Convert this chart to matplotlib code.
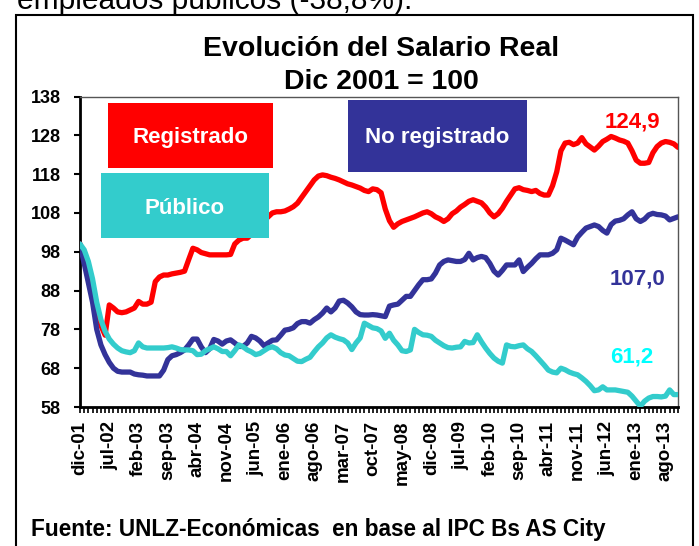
import matplotlib
matplotlib.use("Agg")
import matplotlib.pyplot as plt
from matplotlib.patches import Rectangle
import numpy as np

# ---------------- data ----------------
tick_labels = ["dic-01", "jul-02", "feb-03", "sep-03", "abr-04", "nov-04", "jun-05",
               "ene-06", "ago-06", "mar-07", "oct-07", "may-08", "dic-08", "jul-09",
               "feb-10", "sep-10", "abr-11", "nov-11", "jun-12", "ene-13", "ago-13"]

registrado = [
    100, 97, 92, 87, 83, 79, 76.5, 84.3, 83.5, 82.5,
    82.3, 82.5, 83, 83.5, 85.2, 84.5, 84.5, 85, 90.3, 91.5,
    92, 92, 92.3, 92.5, 92.7, 93, 96, 98.9, 98.5, 97.8,
    97.5, 97.2, 97.2, 97.2, 97.2, 97.2, 97.3, 100, 101, 101.5,
    101.5, 102.5, 103.5, 105, 106, 107, 108, 108.3, 108.3, 108.5,
    109, 109.6, 110.5, 112, 113.5, 115, 116.5, 117.5, 117.8, 117.6,
    117.2, 116.9, 116.5, 116, 115.5, 115.2, 114.8, 114.4, 113.8, 113.5,
    114.2, 114, 113.2, 109, 106, 104.3, 105.2, 105.8, 106.2, 106.6,
    107, 107.5, 108, 108.3, 107.8, 107, 106.5, 105.8, 106.5, 107.8,
    108.5, 109.5, 110.2, 111, 111.4, 111, 110.6, 109.5, 108, 107,
    107.8, 109.2, 111, 112.6, 114.2, 114.5, 114, 113.8, 113.5, 113.8,
    113, 112.6, 112.6, 115, 118.6, 124, 126, 126.2, 125.6, 126,
    127.4, 125.8, 125, 124.2, 125.2, 126.4, 127, 127.7, 127.3, 126.8,
    126.5, 126, 124, 121.6, 120.8, 120.8, 121, 123.5, 125.1, 126,
    126.4, 126.2, 125.8, 124.9]

no_registrado = [
    100, 95, 90, 85, 78, 74, 71.5, 69.5, 68, 67.2,
    67, 67, 67, 66.5, 66.3, 66.2, 66, 66, 66, 66,
    67.5, 70.2, 71.2, 71.5, 72, 72.7, 74, 75.5, 75.5, 73.5,
    72, 73, 75.4, 75, 74.2, 75, 75.3, 74.5, 73.6, 73.6,
    74.5, 76.2, 75.8, 75, 73.8, 74.5, 75.2, 75.3, 76.5, 77.8,
    78, 78.4, 79.5, 80, 80, 79.6, 80.5, 81.2, 82.2, 83.5,
    82.5, 83.5, 85.3, 85.5, 84.8, 83.8, 82.5, 81.8, 81.7, 81.7,
    81.8, 81.7, 81.5, 81.3, 84, 84.3, 84.5, 85.5, 86.5, 86.5,
    88, 89.5, 90.8, 90.8, 91, 92.5, 94.6, 95.5, 95.9, 95.7,
    95.5, 95.5, 96, 97.6, 95.9, 96.5, 96.8, 96.5, 95, 93,
    92, 93.2, 94.6, 94.6, 94.6, 95.9, 92.9, 94, 95, 96.2,
    97.2, 97.2, 97.2, 97.6, 98.5, 101.5, 101, 100.4, 99.8, 101.8,
    103, 104.1, 104.5, 104.9, 104.5, 103.5, 102.8, 105, 105.9, 106.1,
    106.5, 107.5, 108.3, 106.5, 105.8, 106.4, 107.5, 107.9, 107.6, 107.5,
    107.2, 106.2, 106.6, 107.0]

publico = [
    100, 98.5, 95.5, 91, 85, 80.5, 77.5, 75.5, 74.2, 73.2,
    72.5, 72.2, 72, 72.5, 74.5, 73.5, 73.2, 73.2, 73.2, 73.2,
    73.2, 73.3, 73.5, 73.2, 72.8, 72.7, 72.7, 72.5, 71.5, 71.6,
    72.5, 73, 73.5, 73, 72.3, 72.3, 71.2, 72.5, 74, 73.5,
    72.7, 72.2, 71.5, 71.8, 72.5, 73.2, 73.5, 73, 72, 71.4,
    71.2, 70.5, 69.8, 69.7, 70.3, 70.8, 72.2, 73.5, 74.5, 75.8,
    76.6, 76, 75.6, 75.3, 74.5, 72.8, 74.5, 75.8, 79.6, 79,
    78.4, 78.2, 77.6, 75.7, 77, 75.2, 74, 72.5, 72.3, 72.7,
    78, 77.2, 76.6, 76.5, 76.2, 75.2, 74.5, 73.8, 73.3, 73.2,
    73.4, 73.5, 74.9, 74.5, 74.6, 76.6, 74.8, 73.2, 71.8, 70.6,
    69.8, 69.3, 74, 73.6, 73.5, 73.8, 74, 73, 72.3, 71.2,
    70, 68.8, 67.5, 67, 66.8, 68, 67.6, 67, 66.6, 66.3,
    65.5, 64.6, 63.5, 62.2, 62.4, 63.2, 62.4, 62.4, 62.4, 62.2,
    62, 61.8, 60.8, 59.5, 58.2, 59.5, 60.3, 60.7, 60.7, 60.6,
    60.8, 62.4, 61.2, 61.2]

last_labels = ["124,9", "107,0", "61,2"]
y_ticks = list(range(58, 139, 10))

# ---------------- style ----------------
plt.rcParams["font.family"] = ["Liberation Sans", "DejaVu Sans"]

RED = "#FF0000"
NAVY = "#333399"
TEAL = "#33CCCC"
CYAN = "#00FFFF"

W, H = 699, 546
fig = plt.figure(figsize=(W / 100, H / 100), dpi=100)

def fx(x):
    return x / W

def fy(y):
    return 1 - y / H

L, R, T, B = 80, 678, 96.5, 407
ax = fig.add_axes([fx(L), fy(B), (R - L) / W, (B - T) / H])

x = np.arange(len(registrado))
ax.plot(x, registrado, color=RED, lw=3.8, solid_joinstyle="round", solid_capstyle="round", zorder=3)
ax.plot(x, no_registrado, color=NAVY, lw=3.8, solid_joinstyle="round", solid_capstyle="round", zorder=4)
ax.plot(x, publico, color=TEAL, lw=3.8, solid_joinstyle="round", solid_capstyle="round", zorder=5)

ax.set_xlim(0, len(registrado) - 1)
ax.set_ylim(58, 138)
ax.set_yticks(y_ticks)
ax.set_yticklabels([str(v) for v in y_ticks], fontsize=13, fontweight="bold")
ax.set_xticks(np.arange(0, 7 * len(tick_labels), 7))
ax.set_xticklabels(tick_labels, rotation=90, fontsize=13.5, fontweight="bold", va="top", ha="center")
ax.set_xticks(x, minor=True)
ax.tick_params(axis="y", direction="out", length=4, width=1.5, pad=10)
ax.tick_params(axis="x", which="major", direction="out", length=4, width=1.2, pad=6)
ax.tick_params(axis="x", which="minor", direction="out", length=4, width=1.2)
for s in ["left", "bottom"]:
    ax.spines[s].set_linewidth(2)
    ax.spines[s].set_color("black")
for s in ["top", "right"]:
    ax.spines[s].set_linewidth(1)
    ax.spines[s].set_color("#555555")

# end labels
fig.text(fx(660), fy(127), last_labels[0], color=RED, fontsize=16, fontweight="bold", ha="right", va="baseline")
fig.text(fx(665), fy(285), last_labels[1], color=NAVY, fontsize=16, fontweight="bold", ha="right", va="baseline")
fig.text(fx(653), fy(363), last_labels[2], color=CYAN, fontsize=16, fontweight="bold", ha="right", va="baseline")

# legend boxes
def box(x0, y0, x1, y1, color, label, ty):
    fig.patches.append(Rectangle((fx(x0), fy(y1)), (x1 - x0) / W, (y1 - y0) / H,
                                 transform=fig.transFigure, facecolor=color, edgecolor="none", zorder=10))
    fig.text(fx((x0 + x1) / 2), fy(ty), label, color="white", fontsize=16, fontweight="bold",
             ha="center", va="baseline", zorder=11)

box(108, 103, 273, 168, RED, "Registrado", 143)
box(348, 100, 527, 172, NAVY, "No registrado", 143)
box(101, 173, 269, 238, TEAL, "Público", 214)

# titles
fig.text(fx(381), fy(56), "Evolución del Salario Real", fontsize=20.5, fontweight="bold",
         ha="center", va="baseline")
fig.text(fx(381), fy(89), "Dic 2001 = 100", fontsize=20.5, fontweight="bold",
         ha="center", va="baseline")
fig.text(fx(31), fy(536), "Fuente: UNLZ-Económicas  en base al IPC Bs AS City", fontsize=16.3,
         fontweight="bold", ha="left", va="baseline")
fig.text(fx(17), fy(9), "empleados públicos (-38,8%).", fontsize=21.5, ha="left", va="baseline")

# outer frame
fig.patches.append(Rectangle((fx(16), fy(580)), (693 - 16) / W, (580 - 15) / H,
                             transform=fig.transFigure, fill=False, edgecolor="black", lw=1.5))

fig.savefig("out.png", dpi=100)
